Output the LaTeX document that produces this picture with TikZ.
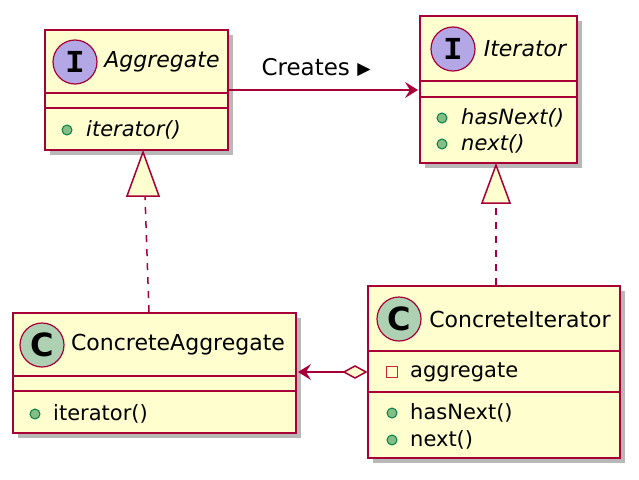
\documentclass[tikz,border=0pt]{standalone}
\usepackage{fontspec}
\setmainfont{DejaVu Sans}
\newfontfamily\monofnt{Liberation Mono}
\usetikzlibrary{arrows.meta}
\definecolor{bd}{HTML}{A80036}
\definecolor{bg}{HTML}{FEFECE}
\definecolor{ci}{HTML}{B4A7E5}
\definecolor{cc}{HTML}{ADD1B2}
\definecolor{pub}{HTML}{038048}
\definecolor{pubf}{HTML}{84BE84}
\definecolor{priv}{HTML}{C82930}
\tikzset{
 box/.style={draw=bd,line width=2.5pt,fill=bg},
 shad/.style={fill=black!28},
 hd/.style={font=\fontsize{22}{26}\selectfont,anchor=center},
 hdi/.style={font=\itshape\fontsize{22}{26}\selectfont,anchor=center},
 mt/.style={font=\fontsize{21}{25}\selectfont,anchor=west,inner sep=0pt},
 mti/.style={font=\itshape\fontsize{21}{25}\selectfont,anchor=west,inner sep=0pt},
 pubc/.style={circle,draw=pub,line width=1pt,fill=pubf,minimum size=10pt,inner sep=0pt},
 privc/.style={draw=priv,line width=1.2pt,minimum size=11pt,inner sep=0pt},
 icirc/.style={circle,draw=bd,line width=1.2pt,fill=ci,minimum size=44pt,inner sep=0pt,font=\monofnt\bfseries\fontsize{32}{32}\selectfont},
 ccirc/.style={circle,draw=bd,line width=1.2pt,fill=cc,minimum size=44pt,inner sep=0pt,font=\bfseries\fontsize{32}{32}\selectfont},
 link/.style={draw=bd,line width=1.5pt},
 tip/.style={-{Stealth[length=13pt,width=16pt,inset=5pt]}},
}
\newcommand{\umlbox}[6]{% x1 y1 x2 y2 line1 line2
 \fill[shad] (#1+5,#2+5) rectangle (#3+5,#4+5);
 \path[box] (#1,#2) rectangle (#3,#4);
 \draw[bd,line width=2.5pt] (#1,#5)--(#3,#5) (#1,#6)--(#3,#6);}
\begin{document}
\begin{tikzpicture}[x=1pt,y=-1pt]
\useasboundingbox (0,0) rectangle (639,479);
% Aggregate
\umlbox{45}{30}{228}{150}{93}{108}
\node[icirc] (ai) at (75,62) {I};
\node[hdi] (agg) at (162,62) {Aggregate};
\node[pubc] (am) at (67,130) {};
\node[mti] at (86,130) {iterator()};
% Iterator
\umlbox{420}{16}{577}{163}{81}{97}
\node[icirc] (ii) at (453,49) {I};
\node[hdi] (it) at (525,49) {Iterator};
\node[pubc] at (442,118) {};
\node[mti] at (461,118) {hasNext()};
\node[pubc] at (442,144) {};
\node[mti] at (461,144) {next()};
% ConcreteAggregate
\umlbox{13}{313}{296}{433}{376}{391}
\node[ccirc] (cai) at (42,345) {C};
\node[hd] (ca) at (178,345) {ConcreteAggregate};
\node[pubc] at (35,414) {};
\node[mt] at (53,414) {iterator()};
% ConcreteIterator
\umlbox{368}{286}{620}{458}{351}{392}
\node[ccirc] (cii) at (399,319) {C};
\node[hd] (ci) at (520,319) {ConcreteIterator};
\node[privc] at (392,372) {};
\node[mt] at (410,372) {aggregate};
\node[pubc] at (392,413) {};
\node[mt] at (410,413) {hasNext()};
\node[pubc] at (392,440) {};
\node[mt] at (410,440) {next()};
% links
\coordinate (a1) at (229,90); \coordinate (a2) at (418,90);
\draw[link,tip] (a1)--(a2);
\node[font=\fontsize{23}{27}\selectfont,anchor=west] (cr) at (258,68) {Creates \raisebox{1pt}{\scalebox{0.75}{▶}}};
\coordinate (r1) at (149,312); \coordinate (r2) at (143,152);
\draw[link,dash pattern=on 7pt off 7pt] (r1)--(145,196);
\draw[link,fill=bg] (r2)--(127,196)--(159,196)--cycle;
\coordinate (s1) at (496,285); \coordinate (s2) at (496,165);
\draw[link,dash pattern=on 7pt off 7pt] (s1)--(496,203);
\draw[link,fill=bg] (s2)--(482,203)--(510,203)--cycle;
\coordinate (d1) at (366,372); \coordinate (d2) at (298,372);
\draw[link,fill=bg] (d1)--(355,366)--(344,372)--(355,378)--cycle;
\draw[link,tip] (344,372)--(d2);
\end{tikzpicture}
\end{document}
